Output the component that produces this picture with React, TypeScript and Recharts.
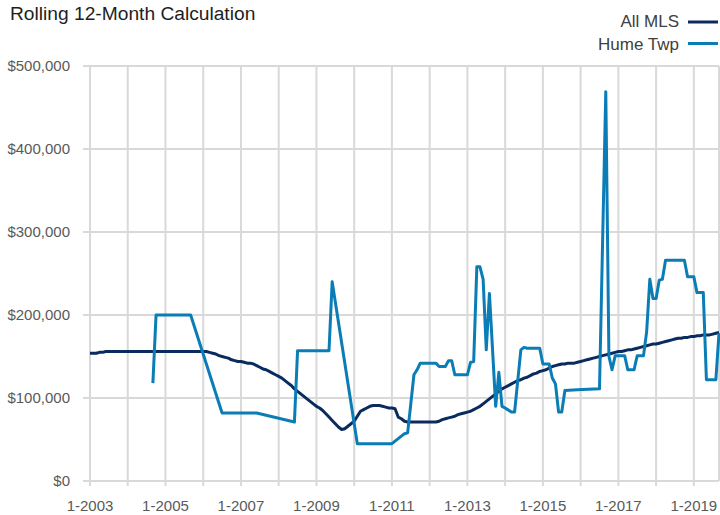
import { LineChart, Line, XAxis, YAxis, CartesianGrid } from "recharts";

const START_YEAR = 2003;
const MONTH_COUNT = 201; // 1-2003 .. 9-2019

// category labels, one per month ("1-2003", "2-2003", ...)
const months = Array.from(
  { length: MONTH_COUNT },
  (_, i) => `${(i % 12) + 1}-${START_YEAR + Math.floor(i / 12)}`
);

// All MLS, rolling 12-month value in $ thousands, one row per year
const allMls = [
  154, 154, 154, 155, 155, 156, 156, 156, 156, 156, 156, 156, // 2003
  156, 156, 156, 156, 156, 156, 156, 156, 156, 156, 156, 156, // 2004
  156, 156, 156, 156, 156, 156, 156, 156, 156, 156, 156, 156, // 2005
  156, 156, 155, 154, 153, 151, 150, 149, 148, 146, 145, 144, // 2006
  144, 143, 142, 142, 141, 139, 137, 135, 134, 132, 130, 128, // 2007
  126, 124, 121, 118, 115, 111, 108, 105, 102, 99, 96, 93, // 2008
  90, 88, 85, 81, 77, 73, 69, 65, 62, 63, 66, 69, // 2009
  72, 78, 84, 86, 88, 90, 91, 91, 91, 90, 89, 88, // 2010
  88, 87, 77, 75, 72, 71, 71, 71, 71, 71, 71, 71, // 2011
  71, 71, 71, 72, 74, 75, 76, 77, 78, 80, 81, 82, // 2012
  83, 84, 86, 88, 90, 93, 96, 99, 102, 105, 108, 111, // 2013
  113, 115, 117, 119, 121, 122, 124, 125, 127, 129, 130, 132, // 2014
  133, 134, 136, 138, 139, 140, 141, 141, 142, 142, 142, 143, // 2015
  144, 145, 146, 147, 148, 149, 150, 151, 152, 153, 154, 155, // 2016
  156, 156, 157, 158, 158, 159, 160, 161, 162, 163, 164, 165, // 2017
  165, 166, 167, 168, 169, 170, 171, 172, 172, 173, 173, 174, // 2018
  174, 175, 175, 176, 176, 176, 177, 178, 179, // 2019
];

// Hume Twp: [month index, $ thousands]; months not listed are gaps the line bridges
const humeTwp: [number, number][] = [
  [20, 118], [21, 200], [32, 200], [42, 82], [53, 82], [65, 71], [66, 157],
  [76, 157], [77, 240], [85, 45], [96, 45], [100, 57], [101, 58], [103, 128],
  [104, 134], [105, 142], [110, 142], [111, 138], [113, 138], [114, 145],
  [115, 145], [116, 128], [120, 128], [121, 143], [122, 144], [123, 258],
  [124, 258], [125, 243], [126, 158], [127, 226], [129, 90], [130, 131],
  [131, 90], [132, 88], [134, 83], [135, 83], [137, 158], [138, 161],
  [139, 160], [143, 160], [144, 141], [146, 141], [147, 124], [148, 117],
  [149, 83], [150, 83], [151, 109], [155, 110], [162, 111], [164, 469],
  [165, 150], [166, 134], [167, 151], [170, 151], [171, 134], [173, 134],
  [174, 151], [176, 151], [177, 180], [178, 243], [179, 220], [180, 220],
  [181, 242], [182, 243], [183, 266], [189, 266], [190, 246], [192, 246],
  [193, 227], [195, 227], [196, 122], [199, 122], [200, 178],
];

const yTicks = [0, 100000, 200000, 300000, 400000, 500000];
// a grid line every January, a label every other one
const yearTicks = Array.from({ length: 17 }, (_, i) => i * 12);
const xTickLabels = ["1-2003", "1-2005", "1-2007", "1-2009", "1-2011", "1-2013", "1-2015", "1-2017", "1-2019"];

const NAVY = "#0a2b5e";
const BLUE = "#0b7db6";
const GRID = "#d9d9d9";
const FONT = "'Liberation Sans', Arial, sans-serif";

const humeByMonth = new Map(humeTwp);
const data = months.map((label, i) => ({
  m: i,
  label,
  allMls: allMls[i] * 1000,
  hume: humeByMonth.has(i) ? humeByMonth.get(i)! * 1000 : null,
}));

function XTick({ x, y, payload }: any) {
  const label = months[payload.value];
  if (!xTickLabels.includes(label)) return null;
  return (
    <text x={x} y={y} dy="0.71em" textAnchor="middle" fontSize={15} fill="#595959" fontFamily={FONT}>
      {label}
    </text>
  );
}

function YTick({ x, y, payload }: any) {
  return (
    <text x={x} y={y} dy="0.36em" textAnchor="end" fontSize={15} fill="#595959" fontFamily={FONT}>
      {"$" + payload.value.toLocaleString("en-US")}
    </text>
  );
}

export default function App() {
  return (
    <div style={{ position: "absolute", left: 0, top: 0, width: 720, height: 515, background: "#fff" }}>
      <LineChart width={720} height={515} data={data} margin={{ top: 66, right: 1, bottom: 4, left: 0 }}>
        <CartesianGrid stroke={GRID} strokeWidth={2} />
        <XAxis
          dataKey="m"
          type="number"
          domain={[0, 200]}
          ticks={yearTicks}
          interval={0}
          height={30}
          tickSize={5}
          tickMargin={14}
          axisLine={{ stroke: GRID, strokeWidth: 2 }}
          tickLine={{ stroke: GRID, strokeWidth: 2 }}
          tick={<XTick />}
        />
        <YAxis
          domain={[0, 500000]}
          ticks={yTicks}
          width={90}
          tickSize={7}
          tickMargin={13}
          axisLine={false}
          tickLine={{ stroke: GRID, strokeWidth: 2 }}
          tick={<YTick />}
        />
        <Line
          type="linear"
          dataKey="allMls"
          stroke={NAVY}
          strokeWidth={3}
          strokeLinejoin="round"
          dot={false}
          isAnimationActive={false}
        />
        <Line
          type="linear"
          dataKey="hume"
          stroke={BLUE}
          strokeWidth={3}
          strokeLinejoin="round"
          dot={false}
          connectNulls
          isAnimationActive={false}
        />
      </LineChart>
      {/* title and legend */}
      <svg width={720} height={60} style={{ position: "absolute", left: 0, top: 0 }} fontFamily={FONT}>
        <text x={10} y={19.5} fontSize={19.2} fill="#1e1e1e">
          Rolling 12-Month Calculation
        </text>
        <text x={679} y={26.5} textAnchor="end" fontSize={17} fill="#404040">
          All MLS
        </text>
        <line x1={688} x2={718} y1={22} y2={22} stroke={NAVY} strokeWidth={3} />
        <text x={679} y={50} textAnchor="end" fontSize={17} fill="#404040">
          Hume Twp
        </text>
        <line x1={688} x2={718} y1={43.5} y2={43.5} stroke={BLUE} strokeWidth={3} />
      </svg>
    </div>
  );
}
